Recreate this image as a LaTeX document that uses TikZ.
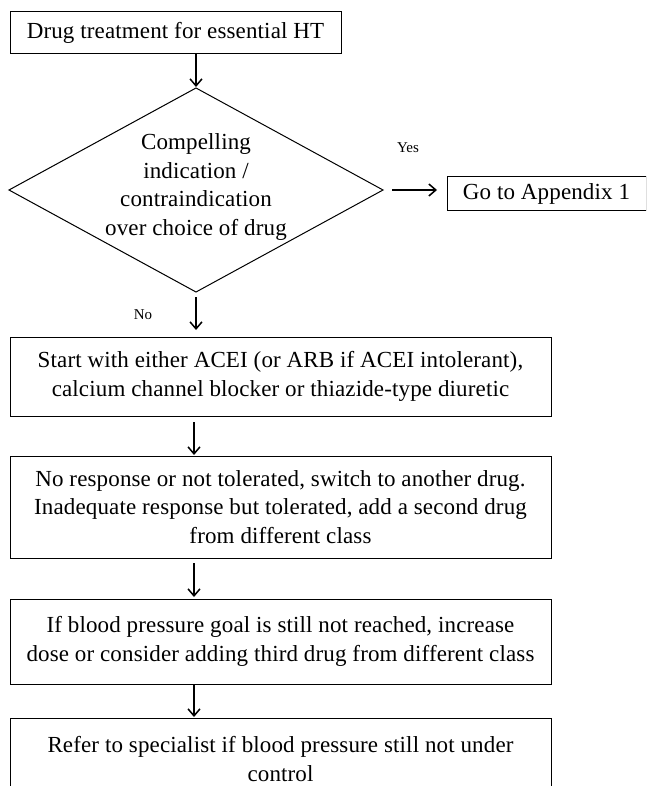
\documentclass[tikz,border=0pt]{standalone}
\usepackage{fontspec}
\setmainfont{Liberation Serif}[LetterSpace=0.6]
\usetikzlibrary{shapes.geometric,arrows.meta}
\begin{document}
\begin{tikzpicture}[x=1pt,y=-1pt,
  box/.style={draw,line width=1pt,inner sep=0pt,outer sep=0pt,align=center,font=\fontsize{23}{28.5}\selectfont},
  txt/.style={inner sep=0pt,align=center,font=\fontsize{23}{28.5}\selectfont},
  lab/.style={inner sep=0pt,font=\fontsize{15}{18}\selectfont},
  arr/.style={line width=1.5pt,-{Straight Barb[length=7pt,width=12pt]}}]
\useasboundingbox (0,0) rectangle (646,786);
\clip (0,0) rectangle (646,786);
\node[box,minimum width=331pt,minimum height=42pt] (b1) at (175.5,33) {Drug treatment for essential HT};
\node[draw,line width=1pt,shape=diamond,minimum width=374pt,minimum height=204pt,inner sep=0pt,outer sep=0pt] (dia) at (196,190) {};
\node[txt] (dt) at (196,187) {Compelling\\indication /\\contraindication\\over choice of drug};
\node[lab] (yes) at (408,148) {Yes};
\node[box,minimum width=199pt,minimum height=34pt] (go) at (546.5,194) {Go to Appendix 1};
\node[lab] (no) at (143,315) {No};
\node[box,minimum width=541pt,minimum height=79pt] (b3) at (280.5,376.5) {Start with either ACEI (or ARB if ACEI intolerant),\\calcium channel blocker or thiazide-type diuretic};
\node[box,minimum width=541pt,minimum height=102pt] (b4) at (280.5,507) {No response or not tolerated, switch to another drug.\\Inadequate response but tolerated, add a second drug\\from different class};
\node[box,minimum width=541pt,minimum height=85pt] (b5) at (280.5,641.5) {If blood pressure goal is still not reached, increase\\dose or consider adding third drug from different class};
\node[box,minimum width=541pt,minimum height=82pt] (b6) at (280.5,759) {Refer to specialist if blood pressure still not under\\control};
\coordinate (ax) at (194,0);
\draw[arr,shorten >=1pt] (dia.north |- b1.south) -- (dia.north);
\draw[arr,shorten <=9pt,shorten >=10pt] (dia.east) -- (dia.east -| go.west);
\draw[arr,shorten <=5pt,shorten >=7pt] (dia.south) -- (dia.south |- b3.north);
\draw[arr,shorten <=6pt,shorten >=1pt] (ax |- b3.south) -- (ax |- b4.north);
\draw[arr,shorten <=5pt,shorten >=2pt] (ax |- b4.south) -- (ax |- b5.north);
\draw[arr,shorten <=1pt,shorten >=1pt] (ax |- b5.south) -- (ax |- b6.north);
\end{tikzpicture}
\end{document}
